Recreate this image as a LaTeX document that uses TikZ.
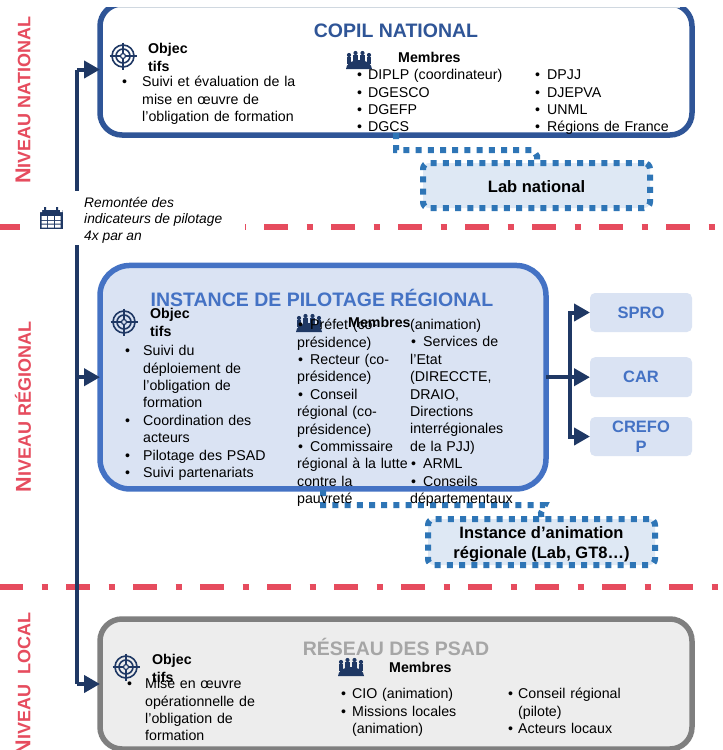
\documentclass[tikz,border=0pt]{standalone}
\usepackage{fontspec}
\setmainfont{Liberation Sans}
\usepackage{tikz}
\usetikzlibrary{arrows.meta,positioning}
\definecolor{pilnavy}{RGB}{31,56,100}
\definecolor{pilblue}{RGB}{47,85,151}
\definecolor{regblue}{RGB}{68,114,196}
\definecolor{regfill}{RGB}{218,227,243}
\definecolor{labblue}{RGB}{46,117,182}
\definecolor{labfill}{RGB}{222,232,244}
\definecolor{locgrey}{RGB}{127,127,127}
\definecolor{locfill}{RGB}{237,237,237}
\definecolor{loctitle}{RGB}{166,166,166}
\definecolor{nivred}{RGB}{230,76,94}
\definecolor{edgeline}{RGB}{208,216,224}
\tikzstyle{niveau} = [inner sep=0pt, rotate=90, text=nivred, font=\bfseries]
\tikzstyle{frontiere} = [color=nivred, line width=5.5pt, dash pattern=on 24pt off 18.5pt on 6pt off 18.5pt]
\tikzstyle{rail} = [color=pilnavy, line width=4pt]
\tikzstyle{fleche} = [rail, -{Triangle[length=16pt,width=17pt]}]
\tikzstyle{pointille} = [draw=labblue, line width=6pt, dash pattern=on 6pt off 6.2pt]
\tikzstyle{instance} = [rectangle, inner sep=0pt, outer sep=0pt, line width=5.5pt]
\tikzstyle{labbox} = [rectangle, rounded corners=6pt, inner sep=0pt, outer sep=0pt, pointille, fill=labfill, align=center, text=black, font=\fontsize{16.5}{20}\selectfont\bfseries]
\tikzstyle{sortie} = [rectangle, rounded corners=5pt, inner sep=0pt, outer sep=0pt, minimum width=102pt, fill=regfill, align=center, text=regblue, font=\fontsize{16.5}{20}\selectfont\bfseries]
\tikzstyle{titre} = [inner sep=0pt, font=\fontsize{19.5}{21}\selectfont\bfseries]
\tikzstyle{gras} = [inner sep=0pt, anchor=north west, align=left, font=\fontsize{14.2}{18.5}\selectfont\bfseries]
\tikzstyle{liste} = [inner sep=0pt, anchor=north west, align=left, font=\fontsize{14.2}{17.4}\selectfont]
\newcommand{\puce}[2][18pt]{\par\noindent\makebox[#1][l]{\textbullet}#2}
\newcommand{\suite}[2][18pt]{\par\noindent\hspace*{#1}#2}
\newcommand{\pucein}{\makebox[13pt][l]{\hspace{1pt}\textbullet}}
\tikzset{
  cible/.pic={
    \draw[pilnavy, line width=1.6pt] (0,0) circle (11pt) (0,0) circle (7pt);
    \draw[pilnavy, line width=1.2pt] (0,0) circle (2.5pt);
    \draw[pilnavy, line width=1.8pt] (-13.5,0) -- (-3,0) (3,0) -- (13.5,0) (0,-13.5) -- (0,-3) (0,3) -- (0,13.5);
  },
  groupe/.pic={
    \foreach \px/\py in {-10/-5,-3.5/-7,3.5/-7,10/-5} {
      \fill[pilnavy] (\px,\py) circle (2.1pt);
      \fill[pilnavy] (\px-2.4,\py+9) rectangle (\px+2.4,\py+2);
    }
    \fill[pilnavy] (-13,9) arc[start angle=180, end angle=0, x radius=13pt, y radius=9pt] -- cycle;
  },
  agenda/.pic={
    \fill[pilnavy] (-11.5,-8) rectangle (11.5,11);
    \fill[white] (-9.5,-2) rectangle (-4,2) (-2.8,-2) rectangle (2.8,2) (4,-2) rectangle (9.5,2);
    \fill[white] (-9.5,3) rectangle (-4,5.5) (-2.8,3) rectangle (2.8,5.5) (4,3) rectangle (9.5,5.5);
    \fill[white] (-9.5,6.5) rectangle (-4,9.5) (-2.8,6.5) rectangle (2.8,9.5) (4,6.5) rectangle (9.5,9.5);
    \fill[white] (-11.5,-8) rectangle (-9,-6) (9,-8) rectangle (11.5,-6);
    \fill[pilnavy] (-7,-11) rectangle (-5,-6) (5,-11) rectangle (7,-6);
  }
}
\begin{document}
\begin{tikzpicture}[x=1pt, y=-1pt]
\useasboundingbox (0,0) rectangle (723,750);
\fill[white] (0,0) rectangle (723,750);

% Level borders
\coordinate (front1a) at (-4,227);
\coordinate (front1b) at (723,227);
\coordinate (front2a) at (-1,587);
\coordinate (front2b) at (723,587);
\draw[frontiere] (front1a) -- (front1b);
\draw[frontiere] (front2a) -- (front2b);

% Level names
\node[niveau] (nivnat) at (23,100) {{\fontsize{21.5}{22}\selectfont N}{\fontsize{18}{22}\selectfont IVEAU NATIONAL}};
\node[niveau] (nivreg) at (23,407) {{\fontsize{21.5}{22}\selectfont N}{\fontsize{18}{22}\selectfont IVEAU RÉGIONAL}};
\node[niveau] (nivloc) at (23,684) {{\fontsize{21.5}{22}\selectfont N}{\fontsize{18}{22}\selectfont IVEAU\ \ LOCAL}};

% Main boxes
\node[instance, draw=pilblue, fill=white, rounded corners=22pt, minimum width=592pt, minimum height=131pt] (copil) at (396,69.5) {};
\node[instance, draw=regblue, fill=regfill, rounded corners=30pt, minimum width=446pt, minimum height=223.5pt] (pilotage) at (323,377.2) {};
\node[instance, draw=locgrey, fill=locfill, rounded corners=22pt, minimum width=592pt, minimum height=130pt] (reseau) at (396,684) {};
\fill[white] (0,0) rectangle (723,7);
\draw[edgeline, line width=0.8pt] (118,7) -- (680,7);

% Rail on the left
\coordinate (railtop) at (77,69.5);
\coordinate (railmid) at (77,377.2);
\coordinate (railbas) at (77,684);
\draw[rail] (railtop) -- (railbas);
\draw[fleche] (railtop) -- (copil.west);
\draw[fleche] (railmid) -- (pilotage.west);
\draw[fleche] (railbas) -- (reseau.west);

% Reporting label
\node[rectangle, fill=white, inner sep=0pt, minimum width=224pt, minimum height=54.5pt] (cache) at (133,218.2) {};
\pic at (51,218) {agenda};
\node[inner sep=0pt, anchor=west, align=left, font=\fontsize{13.8}{16.6}\selectfont\itshape] (remontee) at (84,220) {Remontée des\\indicateurs de pilotage\\4x par an};

% Side boxes
\node[labbox, minimum width=227pt, minimum height=45pt] (lab) at (536.5,185.5) {\rule{0pt}{14pt}Lab national};
\node[labbox, minimum width=227pt, minimum height=46pt] (anim) at (541.5,542) {\rule{0pt}{16pt}Instance d’animation\\régionale (Lab, GT8…)};
\node[sortie, minimum height=39pt] (spro) at (641,312.5) {SPRO};
\node[sortie, minimum height=40pt] (car) at (641,377.2) {CAR};
\node[sortie, minimum height=39pt] (crefop) at (641,436.5) {CREFO\\P};

% Connections
\coordinate (labhaut) at (396,133);
\coordinate (labcoude) at (396,150);
\coordinate (labfin) at (533,150);
\draw[pointille] (labhaut) -- (labcoude) -- (labfin) -- (537,156) -- (537,163);
\coordinate (animhaut) at (323,490);
\coordinate (animcoude) at (323,505);
\coordinate (animfin) at (545,505);
\draw[pointille] (animhaut) -- (animcoude) -- (animfin) -- (541,513) -- (anim.north);
\coordinate (fourche) at (570,377.2);
\draw[rail] (pilotage.east) -- (fourche);
\draw[fleche] (fourche) -- (car.west);
\draw[fleche] (fourche) |- (spro.west);
\draw[fleche] (fourche) |- (crefop.west);

% National
\node[titre, text=pilblue] (copiltitre) at (396,31) {COPIL NATIONAL};
\pic at (123,56) {cible};
\pic at (359,60) {groupe};
\node[gras] (objnat) at (148,43) {Objec\\tifs};
\node[gras] (memnat) at (398,52) {Membres};
\node[liste, text width=190pt] (listnat) at (122,69) {\puce[20pt]{Suivi et évaluation de la}\suite[20pt]{mise en œuvre de}\suite[20pt]{l’obligation de formation}};
\node[liste, text width=170pt] (memnata) at (357,62) {\puce[11pt]{DIPLP (coordinateur)}\puce[11pt]{DGESCO}\puce[11pt]{DGEFP}\puce[11pt]{DGCS}};
\node[liste, text width=150pt] (memnatb) at (535,62) {\puce[12pt]{DPJJ}\puce[12pt]{DJEPVA}\puce[12pt]{UNML}\puce[12pt]{Régions de France}};

% Regional
\node[titre, text=regblue] (pilotitre) at (322,298) {INSTANCE DE PILOTAGE RÉGIONAL};
\pic at (124,322) {cible};
\pic at (309,323) {groupe};
\node[gras] (objreg) at (150,308) {Objec\\tifs};
\node[gras] (memreg) at (348,317) {Membres};
\node[liste, text width=150pt] (listreg) at (125,338) {\puce{Suivi du}\suite{déploiement de}\suite{l’obligation de}\suite{formation}\puce{Coordination des}\suite{acteurs}\puce{Pilotage des PSAD}\puce{Suivi partenariats}};
\node[liste, text width=115pt] (memrega) at (297,319) {\pucein Préfet (co-\\présidence)\\\pucein Recteur (co-\\présidence)\\\pucein Conseil\\régional (co-\\présidence)\\\pucein Commissaire\\régional à la lutte\\contre la\\pauvreté};
\node[liste, text width=115pt] (memregb) at (410,319) {(animation)\\\pucein Services de\\l’Etat\\(DIRECCTE,\\DRAIO,\\Directions\\interrégionales\\de la PJJ)\\\pucein ARML\\\pucein Conseils\\départementaux};

% Local
\node[titre, text=loctitle] (restitre) at (396,647) {RÉSEAU DES PSAD};
\pic at (126,667) {cible};
\pic at (351,667) {groupe};
\node[gras] (objloc) at (152,654) {Objec\\tifs};
\node[gras] (memloc) at (389,662) {Membres};
\node[liste, text width=150pt] (listloc) at (127,671) {\puce{Mise en œuvre}\suite{opérationnelle de}\suite{l’obligation de}\suite{formation}};
\node[liste, text width=150pt] (memloca) at (341,681) {\puce[11pt]{CIO (animation)}\puce[11pt]{Missions locales}\suite[11pt]{(animation)}};
\node[liste, text width=150pt] (memlocb) at (508,681) {\puce[10pt]{Conseil régional}\suite[10pt]{(pilote)}\puce[10pt]{Acteurs locaux}};
\end{tikzpicture}
\end{document}
